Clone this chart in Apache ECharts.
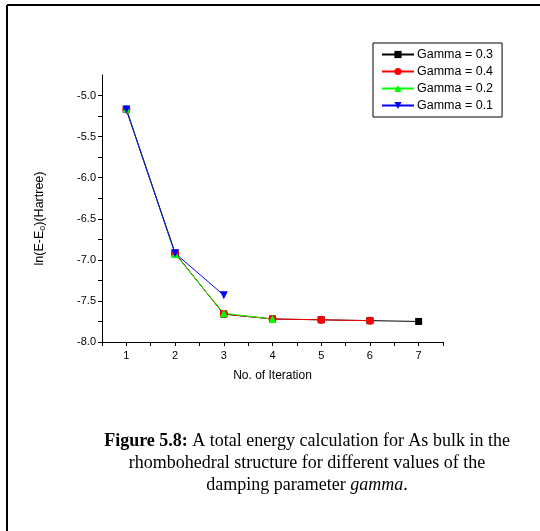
<!DOCTYPE html>
<html>
<head>
<meta charset="utf-8">
<script src="https://cdn.jsdelivr.net/npm/echarts@6/dist/echarts.min.js"></script>
<style>
  html, body { margin: 0; padding: 0; background: #fff; }
  #main { width: 540px; height: 531px; }
</style>
</head>
<body>
<div id="main"></div>
<script>
// iterations on the x axis
var iterations = [1, 2, 3, 4, 5, 6, 7];
// ln(E-Eo) values per damping parameter
var gamma03 = [-5.17, -6.92, -7.66, -7.72, -7.73, -7.74, -7.75];
var gamma04 = [-5.17, -6.92, -7.66, -7.72, -7.73, -7.74];
var gamma02 = [-5.16, -6.93, -7.65, -7.72];
var gamma01 = [-5.17, -6.92, -7.43];
var seriesNames = ['Gamma = 0.3', 'Gamma = 0.4', 'Gamma = 0.2', 'Gamma = 0.1'];
var captionLines = [
  '{b|Figure 5.8:} A total energy calculation for As bulk in the',
  'rhombohedral structure for different values of the',
  'damping parameter {i|gamma}.'
];

function pairs(vals) {
  return vals.map(function (v, i) { return [iterations[i], v]; });
}

var serif = 'Liberation Serif, Times New Roman';
var sans = 'Liberation Sans, Arial';

var captionGraphics = captionLines.map(function (line, i) {
  return {
    type: 'text', x: 307, y: 441 + i * 22,
    style: {
      text: line,
      align: 'center',
      verticalAlign: 'middle',
      fontFamily: serif,
      fontSize: 18,
      fill: '#000',
      rich: {
        b: { fontWeight: 'bold', fontFamily: serif, fontSize: 18 },
        i: { fontStyle: 'italic', fontFamily: serif, fontSize: 18 }
      }
    }
  };
});

var myChart = echarts.init(document.getElementById('main'));
myChart.setOption({
  animation: false,
  grid: { left: 102, top: 75, right: 97, bottom: 189 },
  legend: {
    data: seriesNames,
    orient: 'vertical',
    left: 373,
    top: 43,
    padding: [5, 9, 5, 8],
    itemGap: 4,
    itemWidth: 32,
    itemHeight: 9,
    borderColor: '#000',
    borderWidth: 1,
    textStyle: { fontFamily: sans, fontSize: 12.5, color: '#000', padding: [0, 0, 0, -2] }
  },
  graphic: [
    { type: 'line', shape: { x1: 7, y1: 5, x2: 540, y2: 5 }, style: { stroke: '#000', lineWidth: 2 } },
    { type: 'line', shape: { x1: 7, y1: 5, x2: 7, y2: 531 }, style: { stroke: '#000', lineWidth: 2 } }
  ].concat(captionGraphics),
  xAxis: {
    type: 'value',
    min: 0.5,
    max: 7.5,
    interval: 0.5,
    name: 'No. of Iteration',
    nameLocation: 'middle',
    nameGap: 28,
    nameTextStyle: { fontFamily: sans, fontSize: 12, color: '#000' },
    axisLine: { lineStyle: { color: '#000', width: 1 } },
    axisTick: { inside: false, length: 4, lineStyle: { color: '#000' } },
    axisLabel: {
      fontFamily: sans, fontSize: 11, color: '#000', margin: 8,
      formatter: function (v) { return Number.isInteger(v) ? String(v) : ''; }
    },
    splitLine: { show: false }
  },
  yAxis: {
    type: 'value',
    min: -8,
    max: -4.75,
    interval: 0.25,
    name: '{a|ln(E-E}{s|o}{a|)(Hartree)}',
    nameLocation: 'middle',
    nameGap: 55,
    nameRotate: 90,
    nameTextStyle: {
      padding: [0, 20, 0, 0],
      rich: {
        a: { fontFamily: sans, fontSize: 12.5, color: '#000' },
        s: { fontFamily: sans, fontSize: 9, color: '#000', verticalAlign: 'bottom', padding: [5, 0, 0, 0] }
      }
    },
    axisLine: { show: true, lineStyle: { color: '#000', width: 1 } },
    axisTick: { length: 4, lineStyle: { color: '#000' } },
    axisLabel: {
      fontFamily: sans, fontSize: 11, color: '#000', margin: 6,
      showMaxLabel: false,
      formatter: function (v) {
        return Math.abs(v * 2 - Math.round(v * 2)) < 1e-6 ? v.toFixed(1) : '';
      }
    },
    splitLine: { show: false }
  },
  series: [
    {
      name: seriesNames[0], type: 'line', data: pairs(gamma03),
      symbol: 'rect', symbolSize: 7,
      itemStyle: { color: '#000' }, lineStyle: { color: '#000', width: 1 }
    },
    {
      name: seriesNames[1], type: 'line', data: pairs(gamma04),
      symbol: 'circle', symbolSize: 8,
      itemStyle: { color: '#ff0000' }, lineStyle: { color: '#ff0000', width: 1 }
    },
    {
      name: seriesNames[2], type: 'line', data: pairs(gamma02),
      symbol: 'triangle', symbolSize: 8,
      itemStyle: { color: '#00ff00' }, lineStyle: { color: '#00ff00', width: 1 }
    },
    {
      name: seriesNames[3], type: 'line', data: pairs(gamma01),
      symbol: 'triangle', symbolRotate: 180, symbolSize: 8,
      itemStyle: { color: '#0000ff' }, lineStyle: { color: '#0000ff', width: 1 }
    }
  ]
});
</script>
</body>
</html>
